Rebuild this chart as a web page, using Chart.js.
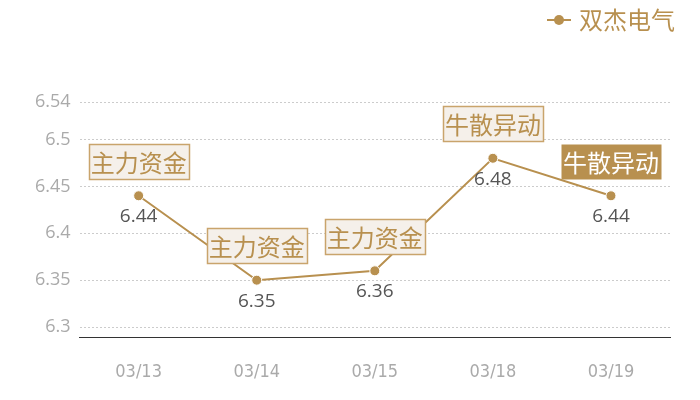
<!DOCTYPE html>
<html lang="zh">
  <head>
    <meta charset="UTF-8" />
    <title>双杰电气</title>
    <script src="https://cdn.jsdelivr.net/npm/chart.js"></script>
    <style>
      body { margin: 0; background: #fff; }
      #wrap { width: 700px; height: 400px; }
    </style>
  </head>
  <body>
    <div id="wrap"><canvas id="priceChart"></canvas></div>

    <script>
      const dates = ["03/13", "03/14", "03/15", "03/18", "03/19"];
      const prices = [6.44, 6.35, 6.36, 6.48, 6.44];
      const tags = ["主力资金", "主力资金", "主力资金", "牛散异动", "牛散异动"];
      const tagFilled = [false, false, false, false, true];
      const yTicks = [6.3, 6.35, 6.4, 6.45, 6.5, 6.54];

      const gold = "#b8904f";
      const cjk = "'Noto Sans CJK SC', sans-serif";

      // legend marker: short line with a dot
      const marker = document.createElement("canvas");
      marker.width = 24;
      marker.height = 12;
      const mctx = marker.getContext("2d");
      mctx.strokeStyle = gold;
      mctx.lineWidth = 2;
      mctx.beginPath();
      mctx.moveTo(0, 6);
      mctx.lineTo(24, 6);
      mctx.stroke();
      mctx.fillStyle = gold;
      mctx.beginPath();
      mctx.arc(12, 6, 5, 0, Math.PI * 2);
      mctx.fill();

      const legendSpace = {
        id: "legendSpace",
        beforeInit(chart) {
          const fit = chart.legend.fit;
          chart.legend.fit = function () {
            fit.bind(chart.legend)();
            this.height += 60;
          };
        },
        afterLayout(chart) {
          chart.legend.left += 13;
          chart.legend.right += 13;
        },
      };

      const pointTags = {
        id: "pointTags",
        afterDatasetsDraw(chart) {
          const ctx = chart.ctx;
          const pts = chart.getDatasetMeta(0).data;
          ctx.save();
          pts.forEach((p, i) => {
            // value under the point
            ctx.font = "19px 'Open Sans', sans-serif";
            ctx.fillStyle = "#555";
            ctx.textAlign = "center";
            ctx.textBaseline = "middle";
            ctx.fillText(String(prices[i]), p.x, p.y + 21);

            // tag box above the point
            ctx.font = "24px " + cjk;
            const w = ctx.measureText(tags[i]).width + 4;
            const h = 35;
            const left = Math.round(p.x - w / 2) + 0.5;
            const top = Math.round(p.y - 17 - h) + 0.5;
            if (tagFilled[i]) {
              ctx.fillStyle = gold;
              ctx.fillRect(left, top, w, h);
              ctx.fillStyle = "#fff";
            } else {
              ctx.fillStyle = "#f5f0ea";
              ctx.fillRect(left, top, w, h);
              ctx.strokeStyle = "#c9a46c";
              ctx.lineWidth = 1.5;
              ctx.strokeRect(left, top, w, h);
              ctx.fillStyle = gold;
            }
            ctx.fillText(tags[i], p.x, top + h / 2 + 1);
          });
          ctx.restore();
        },
      };

      new Chart(document.getElementById("priceChart"), {
        type: "line",
        data: {
          labels: dates,
          datasets: [
            {
              label: "双杰电气",
              data: prices,
              borderColor: gold,
              backgroundColor: gold,
              borderWidth: 2,
              pointRadius: 5,
              pointBorderColor: "#fff",
              pointBorderWidth: 1,
              pointStyle: "circle",
              tension: 0,
            },
          ],
        },
        options: {
          responsive: true,
          maintainAspectRatio: false,
          animation: false,
          layout: { padding: { left: 26, right: 30, top: 0, bottom: -7 } },
          plugins: {
            tooltip: { enabled: false },
            legend: {
              position: "top",
              align: "end",
              labels: {
                usePointStyle: true,
                pointStyleWidth: 16,
                generateLabels(chart) {
                  return [
                    {
                      text: "双杰电气",
                      pointStyle: marker,
                      fontColor: gold,
                      datasetIndex: 0,
                      lineWidth: 0,
                    },
                  ];
                },
                color: gold,
                font: { size: 24, family: cjk },
                padding: 8,
              },
            },
          },
          scales: {
            x: {
              offset: true,
              grid: { display: false, drawTicks: false },
              border: { display: true, color: "#333", width: 1 },
              ticks: {
                color: "#aaa",
                padding: 24,
                font: { size: 18, family: "'Liberation Sans Narrow', 'DejaVu Sans Condensed', sans-serif" },
              },
            },
            y: {
              min: 6.289,
              max: 6.54,
              afterBuildTicks(scale) {
                scale.ticks = yTicks.map((v) => ({ value: v }));
              },
              grid: { color: "#ccc", drawTicks: false, lineWidth: 1 },
              border: { display: false, dash: [2, 2] },
              ticks: {
                color: "#aaa",
                padding: 9,
                font: { size: 18, family: "'Open Sans', sans-serif" },
                callback: (v) => String(v),
              },
            },
          },
        },
        plugins: [legendSpace, pointTags],
      });
    </script>
  </body>
</html>
